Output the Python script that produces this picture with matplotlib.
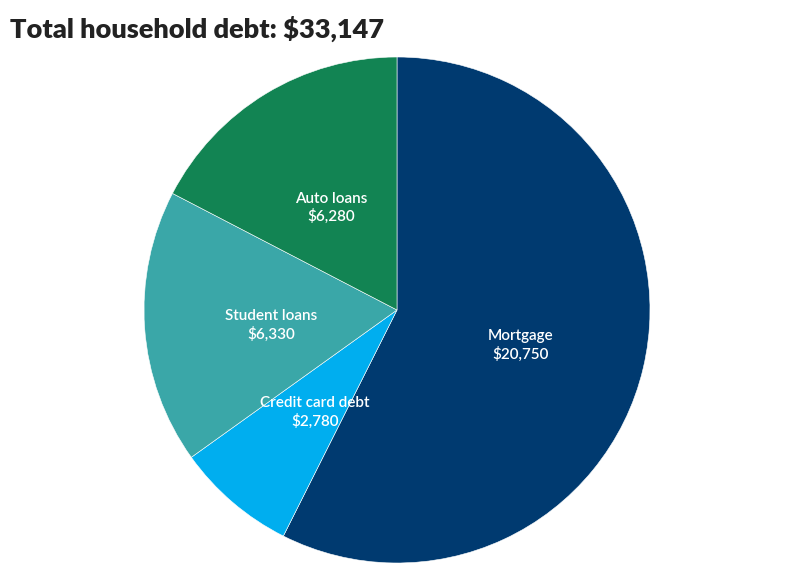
import numpy as np
import matplotlib
matplotlib.use("Agg")
import matplotlib.pyplot as plt

categories = ["Mortgage", "Credit card debt", "Student loans", "Auto loans"]
values = [20750, 2780, 6330, 6280]
value_labels = ["$20,750", "$2,780", "$6,330", "$6,280"]
colors = ["#003a70", "#00aeef", "#3aa7a8", "#128453"]
title = "Total household debt: $33,147"

plt.rcParams['font.family'] = ['Lato', 'DejaVu Sans']

W, H = 794, 575
fig = plt.figure(figsize=(W / 100, H / 100), dpi=100)
cx, cy, R = 397, 310, 253
ax = fig.add_axes([(cx - R) / W, (H - cy - R) / H, 2 * R / W, 2 * R / H])
wedges, _ = ax.pie(values, colors=colors, startangle=90, counterclock=False,
                   radius=1.0, wedgeprops=dict(edgecolor="white", linewidth=0.4))
ax.set_xlim(-1, 1)
ax.set_ylim(-1, 1)
ax.set_aspect("equal")
ax.axis("off")

for w, cat, lab in zip(wedges, categories, value_labels):
    mid = np.deg2rad((w.theta1 + w.theta2) / 2)
    x, y = 0.5 * np.cos(mid), 0.5 * np.sin(mid) - 0.024
    ax.text(x, y, f"{cat}\n{lab}", ha="center", va="center", color="white",
            fontsize=11, linespacing=1.3, fontweight="semibold")

fig.text(10 / W, 1 - 29 / H, title, ha="left", va="center", fontsize=19.5,
         fontweight="heavy", color="#222222")

fig.savefig("out.png", dpi=100)
